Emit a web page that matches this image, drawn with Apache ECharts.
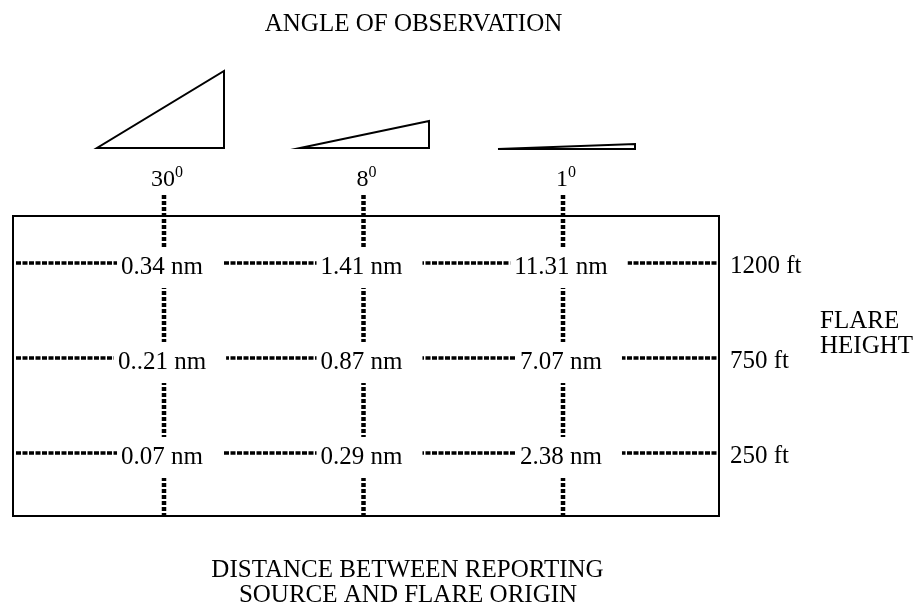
<!DOCTYPE html>
<html><head><meta charset="utf-8">
<script src="https://cdn.jsdelivr.net/npm/echarts@6/dist/echarts.min.js"></script>
<style>html,body{margin:0;padding:0;background:#fff}#c{width:914px;height:605px}</style>
</head><body><div id="c"></div>
<script>
// ---- data ----
const angles = ['30', '8', '1'];                 // angle of observation (degrees)
const flareHeights = ['1200 ft', '750 ft', '250 ft'];
const dist30 = ['0.34 nm', '0..21 nm', '0.07 nm'];
const dist8  = ['1.41 nm', '0.87 nm', '0.29 nm'];
const dist1  = ['11.31 nm', '7.07 nm', '2.38 nm'];
const titleTop = 'ANGLE OF OBSERVATION';
const titleBottom = ['DISTANCE BETWEEN REPORTING', 'SOURCE AND FLARE ORIGIN'];
const titleRight = ['FLARE', 'HEIGHT'];

// ---- layout ----
const BOX = {left: 13, top: 216, right: 719, bottom: 516};
const COL0 = 164, COL_STEP = 199.5;
const ROW0 = 265, ROW_STEP = 95;
const ux = px => (px - COL0) / COL_STEP;
const uy = px => (px - ROW0) / ROW_STEP;
const FONT = 'Liberation Serif';
const triShapes = [
  {l: -67, r: 60, h: 77, base: 148},
  {l: -63.5, r: 65.5, h: 27, base: 148},
  {l: -65, r: 72, h: 5, base: 149}
];
const distByAngle = [dist30, dist8, dist1];

const series = [];
// vertical dotted lines (one per angle)
angles.forEach((a, j) => {
  series.push({
    type: 'line', data: [[j, uy(195)], [j, uy(517)]], symbol: 'none', clip: false, silent: true, z: 1,
    lineStyle: {color: '#000', width: 4.5, type: [4, 2]}
  });
});
// horizontal dotted lines (one per flare height)
flareHeights.forEach((h, i) => {
  series.push({
    type: 'line', data: [[ux(16), i - 0.02], [ux(718), i - 0.02]], symbol: 'none', clip: false, silent: true, z: 1,
    lineStyle: {color: '#000', width: 3.5, type: [5, 1.5]}
  });
});
const labelBase = {fontFamily: FONT, fontSize: 25, color: '#000', opacity: 1};
// distance labels
const cells = [];
distByAngle.forEach((col, j) => col.forEach((txt, i) => cells.push([j, i, txt])));
series.push({
  type: 'scatter', data: cells, symbolSize: 0, z: 10, silent: true, clip: false,
  itemStyle: {opacity: 1},
  label: Object.assign({
    show: true, position: 'inside', formatter: p => p.value[2], lineHeight: 25,
    backgroundColor: '#fff', padding: [6, 20, 10, 4], offset: [6, 2.5]
  }, labelBase)
});
// flare height labels (right side)
series.push({
  type: 'scatter', data: flareHeights.map((h, i) => [ux(BOX.right), i, h]), symbolSize: 0, z: 10, silent: true, clip: false,
  itemStyle: {opacity: 1},
  label: Object.assign({show: true, position: 'right', distance: 11, formatter: p => p.value[2], offset: [0, 1]}, labelBase)
});
// angle labels with superscript
series.push({
  type: 'scatter', data: angles.map((a, j) => [j, uy(180), a]), symbolSize: 0, z: 10, silent: true, clip: false,
  itemStyle: {opacity: 1},
  label: {show: true, position: 'inside', formatter: p => '{b|' + p.value[2] + '}{s|0}', offset: [3, -3], opacity: 1,
    rich: {
      b: {fontFamily: FONT, fontSize: 24, color: '#000', lineHeight: 24, padding: [6, 0, 0, 0]},
      s: {fontFamily: FONT, fontSize: 16, color: '#000', lineHeight: 16, verticalAlign: 'top'}
    }}
});
// triangles
series.push({
  type: 'custom', clip: false, silent: true, z: 5,
  data: angles.map((a, j) => [j]),
  renderItem: (params, api) => {
    const j = api.value(0);
    const t = triShapes[j];
    const c = api.coord([j, uy(t.base)]);
    return {
      type: 'polygon',
      shape: {points: [[c[0] + t.l, c[1]], [c[0] + t.r, c[1]], [c[0] + t.r, c[1] - t.h]]},
      style: {fill: '#fff', stroke: '#000', lineWidth: 2, lineJoin: 'miter'}
    };
  }
});

const txt = (text, x, y, align) => ({
  type: 'text', x, y, silent: true,
  style: {text, fill: '#000', fontFamily: FONT, fontSize: 25, align: align, verticalAlign: 'middle'}
});

const chart = echarts.init(document.getElementById('c'), null, {renderer: 'canvas'});
chart.setOption({
  animation: false,
  backgroundColor: '#fff',
  grid: {left: BOX.left, top: BOX.top, width: BOX.right - BOX.left, height: BOX.bottom - BOX.top,
    show: true, borderColor: '#000', borderWidth: 2, backgroundColor: 'transparent'},
  xAxis: {type: 'value', min: ux(BOX.left), max: ux(BOX.right), show: false},
  yAxis: {type: 'value', inverse: true, min: uy(BOX.top), max: uy(BOX.bottom), show: false},
  graphic: {elements: [
    txt(titleTop, 413.5, 24, 'center'),
    txt(titleBottom[0], 407.5, 570, 'center'),
    txt(titleBottom[1], 408, 595, 'center'),
    txt(titleRight[0], 820, 321, 'left'),
    txt(titleRight[1], 820, 346.5, 'left')
  ]},
  series
});
</script></body></html>
